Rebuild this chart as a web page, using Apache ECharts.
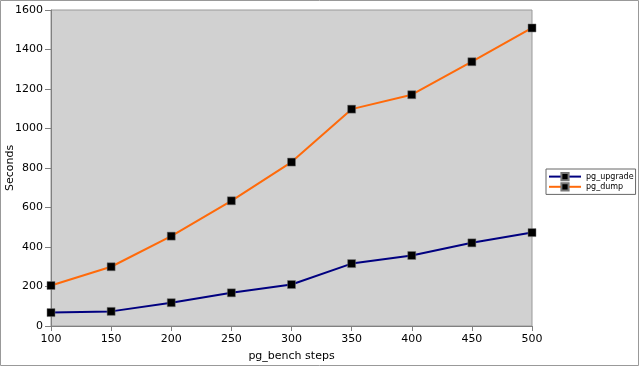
<!DOCTYPE html>
<html><head><meta charset="utf-8">
<script src="https://cdn.jsdelivr.net/npm/echarts@6/dist/echarts.min.js"></script>
<style>html,body{margin:0;padding:0;background:#fff}#c{width:640px;height:367px}</style>
</head><body><div id="c"></div>
<script>
const categories = [100,150,200,250,300,350,400,450,500];
const pgUpgrade = [68,74,118,168,210,316,357,421,473];
const pgDump = [205,300,455,634,830,1098,1171,1338,1509];
const seriesNames = ['pg_upgrade','pg_dump'];
const chart = echarts.init(document.getElementById('c'));
const font = 'DejaVu Sans';
chart.setOption({
  animation:false,
  textStyle:{fontFamily:font},
  graphic:[{type:'rect',shape:{x:0.5,y:0.5,width:638,height:365},style:{fill:'none',stroke:'#999',lineWidth:1},silent:true}],
  grid:{left:51,right:108,top:10,bottom:41,containLabel:false,outerBoundsMode:'none',show:true,backgroundColor:'#d1d1d1',borderColor:'#999',borderWidth:1},
  legend:{orient:'vertical',left:546,top:169,itemWidth:32,itemHeight:9,itemGap:1,padding:[3,2,3,2],
    borderColor:'#666',borderWidth:1,borderRadius:0,backgroundColor:'#fff',
    textStyle:{fontFamily:font,fontSize:8,color:'#000'},data:seriesNames},
  xAxis:{type:'value',min:100,max:500,interval:50,name:'pg_bench steps',nameLocation:'middle',nameGap:25,nameMoveOverlap:false,
    nameTextStyle:{fontFamily:font,fontSize:11,color:'#000'},
    axisLine:{lineStyle:{color:'#808080'}},axisTick:{length:5,lineStyle:{color:'#808080'}},
    axisLabel:{fontFamily:font,fontSize:11,color:'#000',margin:8,formatter:v=>String(v)},splitLine:{show:false}},
  yAxis:{type:'value',min:0,max:1600,interval:200,name:'Seconds',nameLocation:'middle',nameGap:35,nameMoveOverlap:false,
    nameTextStyle:{fontFamily:font,fontSize:11,color:'#000'},
    axisLine:{show:true,lineStyle:{color:'#808080'}},axisTick:{show:true,length:6,lineStyle:{color:'#808080'}},
    axisLabel:{fontFamily:font,fontSize:11,color:'#000',margin:8,formatter:v=>String(v)},splitLine:{show:false}},
  series:[
    {name:seriesNames[0],type:'line',data:categories.map((c,i)=>[c,pgUpgrade[i]]),color:'#000080',
     lineStyle:{color:'#000080',width:2},symbol:'rect',symbolSize:8,itemStyle:{color:'#000',borderColor:'#777',borderWidth:0.5}},
    {name:seriesNames[1],type:'line',data:categories.map((c,i)=>[c,pgDump[i]]),color:'#ff6a0a',
     lineStyle:{color:'#ff6a0a',width:2},symbol:'rect',symbolSize:8,itemStyle:{color:'#000',borderColor:'#777',borderWidth:0.5}}
  ]
});
</script></body></html>
